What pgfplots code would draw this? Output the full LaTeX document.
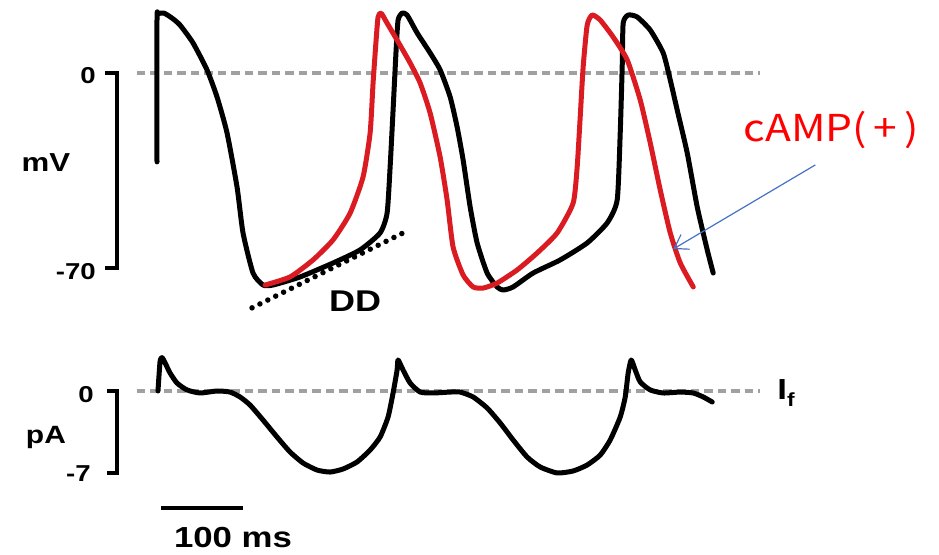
\documentclass[border=0pt]{standalone}
\usepackage{fontspec}
\setmainfont{Liberation Sans}
\newfontfamily\jpfont{Noto Sans CJK JP}
\usepackage{graphicx}
\usepackage{pgfplots}
\pgfplotsset{compat=1.18}
\usetikzlibrary{arrows.meta}

\definecolor{apred}{RGB}{218,28,34}
\definecolor{zerogray}{RGB}{160,160,160}
\definecolor{arrowblue}{RGB}{68,114,196}

% bold label, stretched sideways like the source figure
\newcommand{\lbl}[2]{\scalebox{1.2}[1]{\fontsize{#1}{#1}\selectfont\bfseries #2}}

\pgfplotsset{
  trace/.style={hide axis, clip=false, x=0.82pt, anchor=origin,
    xmin=-5, xmax=700},
}
\tikzset{
  ap/.style={line width=5pt, line join=round, line cap=round, smooth, tension=0.35},
  zero/.style={zerogray, line width=3.2pt, dash pattern=on 8.5pt off 5pt},
  bar/.style={line width=4pt},
}

% membrane potential (ms, mV)
\pgfplotstableread{
t V
0 -31.9
0 19.0
1.2 21.2
8.5 21.5
18.3 19.7
28.1 17.2
43.9 10.8
61.0 1.1
73.2 -8.6
85.4 -21.5
97.6 -40.9
104.9 -57.4
117.1 -71.8
129.3 -76.1
141.5 -76.1
174.5 -73.2
214.7 -68.2
247.7 -63.5
272.1 -57.4
280.6 -50.3
284.3 -33.7
287.9 -13.3
291.6 8.3
294.0 19.0
298.9 21.5
305.0 20.8
317.2 14.4
333.1 7.2
345.3 1.1
357.5 -8.6
366.0 -19.4
373.3 -31.2
381.9 -48.1
390.4 -61.0
402.6 -71.8
414.8 -76.8
422.1 -77.9
434.3 -76.8
458.7 -71.8
491.7 -67.1
524.6 -61.0
549.0 -53.8
561.2 -45.6
564.9 -21.5
567.3 2.2
568.5 17.9
574.6 20.8
585.6 20.1
601.5 15.4
617.3 7.2
625.9 -2.5
634.4 -13.3
646.6 -28.7
658.8 -48.1
671.0 -63.5
678.3 -71.8
}\control

\pgfplotstableread{
t V
131.8 -76.1
162.3 -73.2
190.3 -67.1
214.7 -59.9
235.5 -50.3
251.3 -37.3
259.9 -21.5
263.5 -3.6
267.2 11.8
269.6 20.1
273.3 21.5
280.6 17.9
292.8 11.8
308.7 3.6
320.9 -3.6
333.1 -14.4
345.3 -30.2
353.8 -45.6
361.1 -62.5
373.3 -72.5
385.5 -76.8
397.7 -77.2
414.8 -75.4
439.2 -70.7
463.6 -64.6
488.0 -57.4
507.5 -46.7
512.4 -33.7
516.1 -15.8
519.7 2.2
524.6 17.2
530.7 20.8
540.5 19.0
556.3 12.9
573.4 4.7
589.3 -9.7
601.5 -25.1
613.7 -42.0
625.9 -57.4
638.1 -68.2
654.0 -76.8
}\camp

% funny current (ms, pA)
\pgfplotstableread{
t I
1.2 0
3.7 2.5
6.0 2.85
8.5 2.6
15.9 1.54
24.4 0.68
36.6 0.09
52.5 -0.17
73.2 0
89.1 -0.09
101.3 -0.51
113.5 -1.20
129.3 -2.48
146.4 -3.93
162.3 -5.21
178.1 -6.15
195.2 -6.75
211.1 -6.92
226.9 -6.66
244.0 -6.06
259.9 -5.04
272.1 -3.93
281.8 -2.22
287.9 -0.17
292.8 1.79
294.0 2.65
300.1 1.79
308.7 0.68
320.9 -0.09
336.7 -0.17
357.5 -0.09
369.7 -0.09
385.5 -0.51
402.6 -1.45
418.5 -2.73
434.3 -4.18
451.4 -5.64
467.3 -6.49
488.0 -7.00
507.5 -6.83
524.6 -6.32
540.5 -5.47
552.7 -4.18
564.9 -2.22
571.0 -0.51
574.6 1.54
578.3 2.65
583.2 1.79
589.3 0.77
601.5 0.09
617.3 -0.17
638.1 -0.09
653.9 -0.17
666.1 -0.51
677.1 -0.94
}\funny

\begin{document}
\begin{tikzpicture}
\useasboundingbox (0,0) rectangle (939pt,554pt);

% upper panel: membrane potential
\begin{axis}[trace, y=2.786pt, ymin=-80, ymax=25, at={(157pt,481pt)}]
\draw[zero] (axis cs:-24.4,0) -- (axis cs:735.7,0);
\draw[bar] (axis cs:-63.4,0) -- (axis cs:-48.8,0) -- (axis cs:-48.8,-70) -- (axis cs:-63.4,-70);
\node[anchor=east, inner sep=0pt] at (axis cs:-74.5,-0.9) {\lbl{23}{0}};
\node[anchor=east, inner sep=0pt] at (axis cs:-74.5,-71.2) {\lbl{23}{-70}};
\node[inner sep=0pt] at (axis cs:-135.4,-32.1) {\lbl{26}{mV}};
\addplot[ap, black] table[x=t, y=V] {\control};
\addplot[ap, apred] table[x=t, y=V] {\camp};
\draw[line width=5.5pt, line cap=round, dash pattern=on 0pt off 8.8pt]
  (axis cs:115.9,-84.3) -- (axis cs:300.1,-57.4);
\node[inner sep=0pt] at (axis cs:241.6,-81.8) {\lbl{30}{DD}};
\draw[arrowblue, line width=1.2pt, -{Straight Barb[length=13pt,width=17pt]}]
  (axis cs:802.8,-33.0) -- (axis cs:629.5,-63.2);
\node[inner sep=0pt, text=red] at (axis cs:822.3,-20.5)
  {\scalebox{1.15}[1]{\jpfont\fontsize{37}{37}\selectfont cAMP(\,+\,)}};
\end{axis}

% lower panel: I_f
\begin{axis}[trace, y=11.71pt, ymin=-8, ymax=4, at={(157pt,163pt)}]
\draw[zero] (axis cs:-24.4,0) -- (axis cs:735.7,0);
\draw[bar] (axis cs:-61,0) -- (axis cs:-48.8,0) -- (axis cs:-48.8,-7) -- (axis cs:-61,-7);
\node[anchor=east, inner sep=0pt] at (axis cs:-77,-0.3) {\lbl{23}{0}};
\node[anchor=east, inner sep=0pt] at (axis cs:-80.5,-7.05) {\lbl{23}{-7}};
\node[inner sep=0pt] at (axis cs:-135.4,-3.93) {\lbl{25}{pA}};
\addplot[ap, black] table[x=t, y=I] {\funny};
\node[anchor=west, inner sep=0pt] at (axis cs:756.4,-0.17)
  {\lbl{29}{I}\raisebox{-7pt}{\lbl{19}{f}}};
\draw[line width=4.5pt] (axis cs:4.9,-9.99) -- (axis cs:104.9,-9.99);
\node[inner sep=0pt] at (axis cs:92.7,-12.47) {\lbl{29}{100 ms}};
\end{axis}
\end{tikzpicture}
\end{document}
